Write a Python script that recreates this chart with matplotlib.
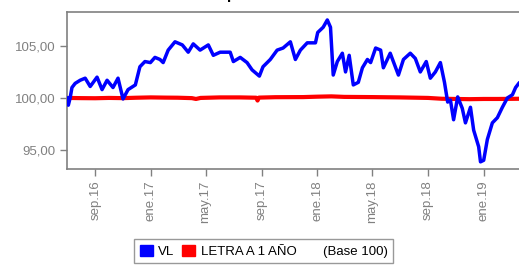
import matplotlib
matplotlib.use("Agg")
import matplotlib.pyplot as plt
from matplotlib.patches import Patch
import pandas as pd

plt.rcParams["font.family"] = ["Liberation Sans", "DejaVu Sans"]

# VL (valor liquidativo, base 100)
vl_dates = [
    "2016-07-02", "2016-07-04", "2016-07-08", "2016-07-12", "2016-07-19", "2016-07-30",
    "2016-08-10", "2016-08-21", "2016-09-05", "2016-09-16", "2016-09-27", "2016-10-10",
    "2016-10-21", "2016-11-01", "2016-11-12", "2016-11-28", "2016-12-08", "2016-12-19",
    "2016-12-31", "2017-01-10", "2017-01-21", "2017-01-28", "2017-02-08", "2017-02-23",
    "2017-03-11", "2017-03-24", "2017-04-04", "2017-04-19", "2017-05-07", "2017-05-18",
    "2017-06-02", "2017-06-24", "2017-07-01", "2017-07-16", "2017-07-31", "2017-08-11",
    "2017-08-27", "2017-09-04", "2017-09-20", "2017-10-05", "2017-10-18", "2017-11-03",
    "2017-11-14", "2017-11-25", "2017-12-10", "2017-12-28", "2018-01-02", "2018-01-14",
    "2018-01-23", "2018-01-30", "2018-02-05", "2018-02-14", "2018-02-25", "2018-03-04",
    "2018-03-12", "2018-03-21", "2018-04-01", "2018-04-10", "2018-04-21", "2018-04-28",
    "2018-05-09", "2018-05-20", "2018-05-26", "2018-06-10", "2018-06-28", "2018-07-09",
    "2018-07-24", "2018-08-04", "2018-08-15", "2018-08-28", "2018-09-06", "2018-09-17",
    "2018-09-28", "2018-10-07", "2018-10-14", "2018-10-20", "2018-10-27", "2018-11-05",
    "2018-11-15", "2018-11-22", "2018-12-03", "2018-12-10", "2018-12-21", "2018-12-25",
    "2019-01-01", "2019-01-09", "2019-01-20", "2019-01-31", "2019-02-11", "2019-02-22",
    "2019-03-05", "2019-03-12", "2019-03-19",
]
vl_values = [
    100.0, 99.3, 100.0, 101.0, 101.4, 101.7,
    101.9, 101.1, 102.0, 100.8, 101.7, 101.0,
    101.9, 99.9, 100.8, 101.25, 103.0, 103.5,
    103.4, 103.9, 103.7, 103.4, 104.6, 105.4,
    105.1, 104.4, 105.2, 104.6, 105.1, 104.1,
    104.4, 104.4, 103.5, 103.9, 103.4, 102.7,
    102.1, 103.0, 103.7, 104.6, 104.8, 105.4,
    103.7, 104.6, 105.3, 105.3, 106.3, 106.8,
    107.5, 106.8, 102.2, 103.5, 104.3, 102.5,
    104.1, 101.25, 101.5, 102.9, 103.7, 103.4,
    104.8, 104.6, 102.9, 104.3, 102.2, 103.7,
    104.3, 103.8, 102.5, 103.5, 101.9, 102.5,
    103.4, 101.5, 99.6, 99.8, 97.9, 100.1,
    99.0, 97.6, 99.1, 96.9, 95.3, 93.85,
    94.0, 96.0, 97.6, 98.1, 99.1, 100.0,
    100.3, 101.0, 101.4,
]

# Letra a 1 año (base 100)
letra_dates = [
    "2016-07-01", "2016-08-01", "2016-09-01", "2016-10-01", "2016-11-01", "2016-12-01",
    "2017-01-01", "2017-02-01", "2017-03-01", "2017-04-01", "2017-04-10", "2017-04-20",
    "2017-06-01", "2017-07-15", "2017-08-20", "2017-08-23", "2017-08-26", "2017-10-01",
    "2017-12-01", "2018-01-01", "2018-02-01", "2018-03-01", "2018-05-01", "2018-07-01",
    "2018-09-01", "2018-10-01", "2018-11-01", "2018-12-01", "2019-01-01", "2019-02-01",
    "2019-03-21",
]
letra_values = [
    100.00, 99.98, 99.97, 100.00, 99.98, 100.02,
    100.05, 100.03, 100.02, 99.98, 99.90, 100.00,
    100.05, 100.05, 100.02, 99.75, 100.03, 100.07,
    100.08, 100.12, 100.15, 100.10, 100.08, 100.05,
    100.00, 99.92, 99.90, 99.88, 99.90, 99.90,
    99.92,
]

tick_dates = ["2016-09-01", "2017-01-01", "2017-05-01", "2017-09-01",
              "2018-01-01", "2018-05-01", "2018-09-01", "2019-01-01"]
tick_labels = ["sep.16", "ene.17", "may.17", "sep.17", "ene.18", "may.18", "sep.18", "ene.19"]
y_ticks = [95, 100, 105]
y_labels = ["95,00", "100,00", "105,00"]

grey = "#808080"

fig = plt.figure(figsize=(5.19, 2.66), dpi=100)
ax = fig.add_axes([0.129, 0.365, 0.875, 0.59])

ax.plot(pd.to_datetime(letra_dates), letra_values, color="#ff0000", lw=3.0, zorder=2)
ax.plot(pd.to_datetime(vl_dates), vl_values, color="#0000ff", lw=2.5, zorder=3)

ax.set_xlim(pd.Timestamp("2016-07-01"), pd.Timestamp("2019-03-24"))
ax.set_ylim(93.17, 108.27)
ax.set_xticks(pd.to_datetime(tick_dates))
ax.set_xticklabels(tick_labels, rotation=90)
ax.set_yticks(y_ticks)
ax.set_yticklabels(y_labels)
ax.tick_params(colors=grey, labelcolor=grey, labelsize=9.5, length=5, width=1)

for side in ["left", "bottom", "top", "right"]:
    ax.spines[side].set_color(grey)
    ax.spines[side].set_linewidth(1.2)

# title sits mostly above the canvas, as in the original export
fig.text(0.5, 1 + 1.5 / 266, "Evolución del valor liquidativo en los últimos 3 años",
         ha="center", va="baseline", fontsize=11, fontweight="bold")

handles = [Patch(color="#0000ff"), Patch(color="#ff0000"), Patch(color="none")]
labels = ["VL", "LETRA A 1 AÑO", "(Base 100)"]
leg = fig.legend(handles, labels, loc="upper center", bbox_to_anchor=(0.508, 0.125),
                 ncol=3, fontsize=9.5, frameon=True, fancybox=False,
                 handlelength=1.0, handleheight=1.0, handletextpad=0.4,
                 columnspacing=0.6, borderpad=0.4)
leg.get_frame().set_edgecolor(grey)
leg.get_frame().set_linewidth(1.0)

fig.savefig("out.png", dpi=100)
